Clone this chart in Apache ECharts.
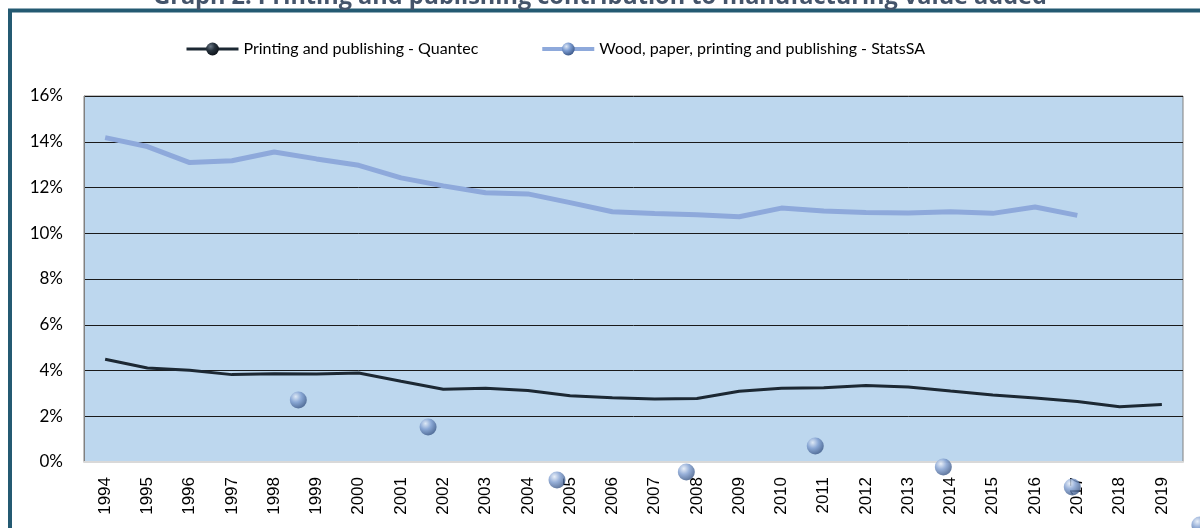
<!DOCTYPE html>
<html>
<head>
<meta charset="utf-8">
<title>Graph 2</title>
<script src="https://cdn.jsdelivr.net/npm/echarts@6/dist/echarts.min.js"></script>
<style>
    html, body {margin: 0; padding: 0; background: #fff;}
    #main {width: 1200px; height: 528px;}
</style>
</head>
<body>
<div id="main"></div>
<script>
// categories and values
var years = ['1994', '1995', '1996', '1997', '1998', '1999', '2000', '2001', '2002', '2003', '2004', '2005', '2006',
    '2007', '2008', '2009', '2010', '2011', '2012', '2013', '2014', '2015', '2016', '2017', '2018', '2019'];
var quantec = [4.49, 4.11, 4.01, 3.82, 3.86, 3.85, 3.89, 3.53, 3.18, 3.22, 3.13, 2.90, 2.81,
    2.75, 2.78, 3.09, 3.22, 3.25, 3.34, 3.28, 3.10, 2.93, 2.80, 2.64, 2.42, 2.51];
var statsSA = [14.18, 13.79, 13.09, 13.17, 13.55, 13.25, 12.97, 12.42, 12.07, 11.77, 11.72, 11.34, 10.94,
    10.86, 10.81, 10.72, 11.10, 10.97, 10.91, 10.88, 10.94, 10.87, 11.15, 10.78, null, null];
// the loose sphere markers (position in category units, value in %)
var strayPos = [4.57, 7.64, 10.69, 13.75, 16.8, 19.83, 22.88, 25.9];
var strayVal = [2.71, 1.53, -0.79, -0.44, 0.70, -0.22, -1.09, -2.75];
var yTicks = [0, 2, 4, 6, 8, 10, 12, 14, 16];

var nameQ = 'Printing and publishing - Quantec';
var nameS = 'Wood, paper, printing and publishing - StatsSA';

function sphere(light, mid, dark) {
    return new echarts.graphic.RadialGradient(0.35, 0.3, 0.75, [
        {offset: 0, color: light},
        {offset: 0.45, color: mid},
        {offset: 1, color: dark}
    ]);
}

var strayData = [];
for (var i = 0; i < strayPos.length; i++) {
    strayData.push([strayPos[i], strayVal[i]]);
}

var myChart = echarts.init(document.getElementById('main'));
var option = {
    animation: false,
    graphic: [
        {
            type: 'rect',
            shape: {x: 10, y: 10.5, width: 1400, height: 700},
            style: {fill: 'none', stroke: '#245A72', lineWidth: 4},
            z: -1
        },
        {
            type: 'text',
            left: 'center',
            top: -15,
            style: {
                text: 'Graph 2: Printing and publishing contribution to manufacturing value added',
                fill: '#44546A',
                font: 'bold 23.5px "Open Sans", sans-serif'
            }
        }
    ],
    legend: {
        left: 180,
        top: 36,
        itemWidth: 52,
        itemHeight: 16,
        itemGap: 62,
        data: [
            {name: nameQ, lineStyle: {width: 3}},
            {name: nameS, lineStyle: {width: 4}}
        ],
        textStyle: {fontFamily: 'Lato', fontSize: 16, color: '#000'}
    },
    grid: {
        left: 84, right: 17, top: 96, bottom: 66,
        show: true,
        backgroundColor: '#BDD7EE',
        borderColor: '#808080',
        borderWidth: 1
    },
    xAxis: [
        {
            type: 'category',
            data: years,
            boundaryGap: true,
            axisLine: {lineStyle: {color: '#D9D9D9', width: 2}},
            axisTick: {show: false},
            axisLabel: {rotate: 90, margin: 15, color: '#000', fontFamily: 'Liberation Sans', fontSize: 17}
        },
        {
            type: 'value',
            min: -0.5,
            max: 25.5,
            show: false
        }
    ],
    yAxis: {
        type: 'value',
        min: yTicks[0],
        max: yTicks[yTicks.length - 1],
        interval: 2,
        axisLine: {show: true, onZero: false, lineStyle: {color: '#808080'}},
        axisTick: {show: false},
        axisLabel: {formatter: '{value}%', margin: 21, color: '#000', fontFamily: 'Lato', fontSize: 17},
        splitLine: {lineStyle: {color: '#1a1a1a', width: 1}}
    },
    series: [
        {
            name: nameQ,
            type: 'line',
            data: quantec,
            symbol: 'circle',
            symbolSize: 14,
            showSymbol: false,
            lineStyle: {color: '#1C2833', width: 3},
            itemStyle: {color: sphere('#6a7785', '#27323d', '#0d1218')},
            z: 3
        },
        {
            name: nameS,
            type: 'line',
            data: statsSA,
            symbol: 'circle',
            symbolSize: 14,
            showSymbol: false,
            lineStyle: {color: '#8EA9DB', width: 5},
            itemStyle: {color: sphere('#dde7f5', '#7b9bd0', '#3a5686')},
            z: 2
        },
        {
            name: 'markers',
            type: 'scatter',
            xAxisIndex: 1,
            data: strayData,
            symbolSize: 17,
            clip: false,
            itemStyle: {color: sphere('#e4ecf7', '#7d9ccf', '#34507f')},
            z: 4
        }
    ]
};
myChart.setOption(option);
</script>
</body>
</html>
